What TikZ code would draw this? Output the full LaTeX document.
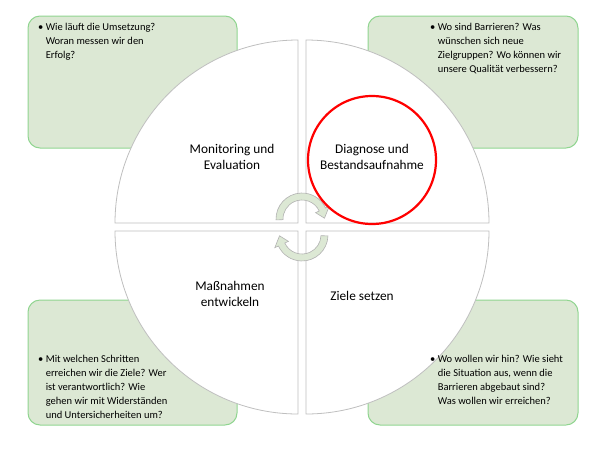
\documentclass[tikz,border=0pt]{standalone}
\usepackage{fontspec}
\setmainfont{Carlito}
\begin{document}
\begin{tikzpicture}[x=1pt,y=-1pt,
  gbox/.style={draw=green!45!gray!60!white, line width=1pt, fill={rgb,255:red,220;green,232;blue,212}, rounded corners=12pt},
  quad/.style={draw=black!25, line width=0.8pt, fill=white},
  btxt/.style={font=\fontsize{10.5}{14}\selectfont, align=left, anchor=north west, inner sep=0pt},
  mtxt/.style={font=\fontsize{13.3}{16}\selectfont, align=center},
  carrow/.style={draw=black!30, line width=0.6pt, fill={rgb,255:red,220;green,232;blue,212}}]
\useasboundingbox (0,0) rectangle (605,448);
% green boxes
\draw[gbox] (28,16) rectangle (237,148);
\draw[gbox] (368,16) rectangle (578,148);
\draw[gbox] (28,300) rectangle (237,425);
\draw[gbox] (368,300) rectangle (578,425);
% quadrants
\coordinate (c) at (302,227);
\draw[quad] ([shift={(4,-4)}]c) -- ++(0:183) arc[start angle=0,end angle=-90,radius=183] -- cycle;
\draw[quad] ([shift={(-4,-4)}]c) -- ++(180:183) arc[start angle=180,end angle=270,radius=183] -- cycle;
\draw[quad] ([shift={(-4,4)}]c) -- ++(180:183) arc[start angle=180,end angle=90,radius=183] -- cycle;
\draw[quad] ([shift={(4,4)}]c) -- ++(0:183) arc[start angle=0,end angle=90,radius=183] -- cycle;
% circular arrows
\coordinate (ca) at (302,219);
\coordinate (cb) at (302,235);
\draw[carrow] ([shift={(178:26)}]ca) arc[start angle=178,end angle=335,radius=26] -- ([shift={(335:30)}]ca) -- ([shift={(358:22.5)}]ca) -- ([shift={(335:15)}]ca) -- ([shift={(335:19)}]ca) arc[start angle=335,end angle=178,radius=19] -- cycle;
\draw[carrow] ([shift={(2:26)}]cb) arc[start angle=2,end angle=155,radius=26] -- ([shift={(155:30)}]cb) -- ([shift={(178:22.5)}]cb) -- ([shift={(155:15)}]cb) -- ([shift={(155:19)}]cb) arc[start angle=155,end angle=2,radius=19] -- cycle;
% red circle
\draw[red, line width=2.2pt] (372,160) circle[radius=64];
% main labels
\node[mtxt] (mon) at (232,157) {Monitoring und\\Evaluation};
\node[mtxt] (dia) at (372,157) {Diagnose und\\Bestandsaufnahme};
\node[mtxt] (mas) at (230,294) {Maßnahmen\\entwickeln};
\node[mtxt] (zie) at (362,296) {Ziele setzen};
% box texts
\node[btxt] (t1) at (38,20) {\textbullet\ \begin{tabular}[t]{@{}l@{}}Wie läuft die Umsetzung?\\Woran messen wir den\\Erfolg?\end{tabular}};
\node[btxt] (t2) at (430,20) {\textbullet\ \begin{tabular}[t]{@{}l@{}}Wo sind Barrieren? Was\\wünschen sich neue\\Zielgruppen? Wo können wir\\unsere Qualität verbessern?\end{tabular}};
\node[btxt] (t3) at (38,352) {\textbullet\ \begin{tabular}[t]{@{}l@{}}Mit welchen Schritten\\erreichen wir die Ziele? Wer\\ist verantwortlich? Wie\\gehen wir mit Widerständen\\und Untersicherheiten um?\end{tabular}};
\node[btxt] (t4) at (430,352) {\textbullet\ \begin{tabular}[t]{@{}l@{}}Wo wollen wir hin? Wie sieht\\die Situation aus, wenn die\\Barrieren abgebaut sind?\\Was wollen wir erreichen?\end{tabular}};
\end{tikzpicture}
\end{document}
